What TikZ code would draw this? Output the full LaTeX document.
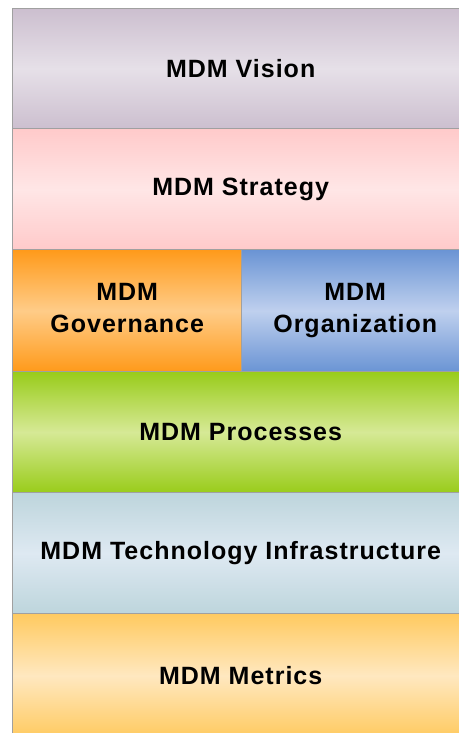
\documentclass[tikz,border=0pt]{standalone}
\usepackage{fontspec}
\setmainfont{Liberation Sans}
\begin{document}
\begin{tikzpicture}[x=1pt,y=-1pt,
  band/.style={rectangle, anchor=north west, inner sep=0pt, draw=bordergray, line width=1.4pt,
    font=\fontsize{25}{32}\selectfont\bfseries\addfontfeature{LetterSpace=4}, align=center, text=black},
  grad/.style n args={2}{top color=#1, bottom color=#1, middle color=#2}]
\definecolor{bordergray}{HTML}{A0A0A0}
\definecolor{visE}{HTML}{CCBFCF}\definecolor{visM}{HTML}{E6E0E8}
\definecolor{strE}{HTML}{FFCACA}\definecolor{strM}{HTML}{FFE6E6}
\definecolor{govE}{HTML}{FF9A1A}\definecolor{govM}{HTML}{FFCC88}
\definecolor{orgE}{HTML}{6A94D4}\definecolor{orgM}{HTML}{BFD0EE}
\definecolor{proE}{HTML}{99CC1A}\definecolor{proM}{HTML}{D6E996}
\definecolor{tecE}{HTML}{BDD5DC}\definecolor{tecM}{HTML}{DEE9F2}
\definecolor{metE}{HTML}{FFCA60}\definecolor{metM}{HTML}{FFE8C0}
\useasboundingbox (0,0) rectangle (458,733);
\fill[white] (0,0) rectangle (458,733);
\node[band, grad={visE}{visM}, minimum width=456, minimum height=120] (vision) at (12,8) {MDM Vision};
\node[band, grad={strE}{strM}, minimum width=456, minimum height=121] (strategy) at (12,128) {MDM Strategy};
\node[band, grad={govE}{govM}, minimum width=229, minimum height=122] (governance) at (12,249) {MDM\\Governance\vphantom{g}};
\node[band, grad={orgE}{orgM}, minimum width=227, minimum height=122] (organization) at (241,249) {MDM\\Organization};
\node[band, grad={proE}{proM}, minimum width=456, minimum height=121] (processes) at (12,371) {MDM Processes};
\node[band, grad={tecE}{tecM}, minimum width=456, minimum height=121] (technology) at (12,492) {MDM Technology Infrastructure};
\node[band, grad={metE}{metM}, minimum width=456, minimum height=124] (metrics) at (12,613) {MDM Metrics};
\end{tikzpicture}
\end{document}
